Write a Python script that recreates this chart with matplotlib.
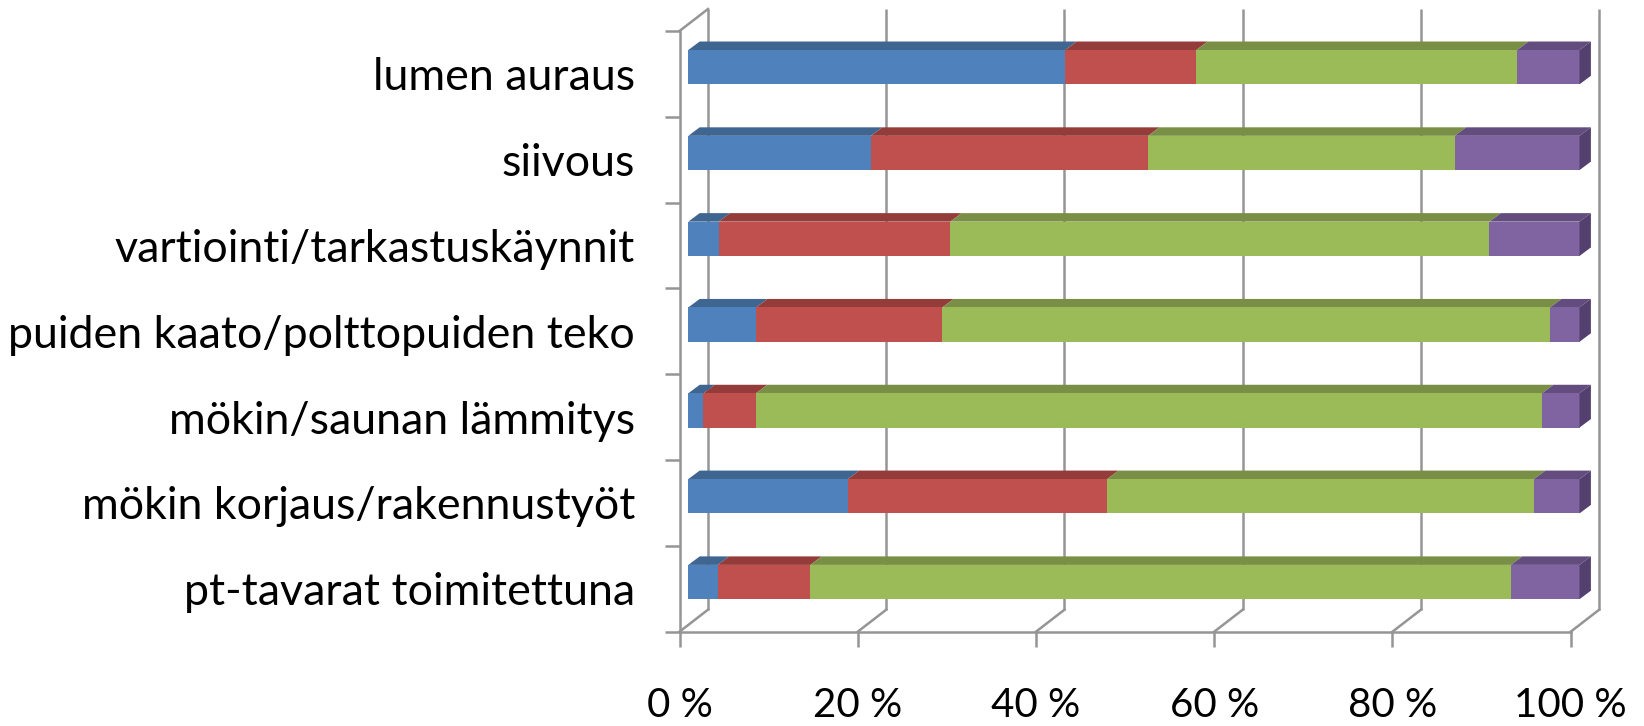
import matplotlib
matplotlib.use("Agg")
import matplotlib.pyplot as plt
import numpy as np

categories = ["lumen auraus", "siivous", "vartiointi/tarkastuskäynnit",
              "puiden kaato/polttopuiden teko", "mökin/saunan lämmitys",
              "mökin korjaus/rakennustyöt", "pt-tavarat toimitettuna"]
series_a = [42.3, 20.5, 3.4, 7.6, 1.7, 17.9, 3.3]
series_b = [14.7, 31.1, 26.0, 20.9, 5.9, 29.1, 10.4]
series_c = [36.0, 34.4, 60.5, 68.2, 88.2, 47.9, 78.6]
series_d = [7.0, 14.0, 10.1, 3.3, 4.2, 5.1, 7.7]
xtick_values = [0, 20, 40, 60, 80, 100]
xtick_labels = ["0 %", "20 %", "40 %", "60 %", "80 %", "100 %"]

front = ["#4F81BD", "#C0504D", "#9BBB59", "#8064A2"]
top = ["#3F6591", "#933C3A", "#7A8F46", "#634D7E"]
side = "#54406E"
grid = "#959595"

W, H = 1644, 726
fig = plt.figure(figsize=(W / 100, H / 100), dpi=100, facecolor="white")
L, R, T, B = 679.5, 1570.7, 31.0, 631.7
ax = fig.add_axes([L / W, 1 - B / H, (R - L) / W, (B - T) / H])
ax.set_xlim(0, 100)
ax.set_ylim(7, 0)
ax.patch.set_visible(False)

px = 100 / (R - L)          # percent per pixel
py = 7 / (B - T)            # band per pixel
wall_dx, wall_dy = 28.5 * px, 22 * py
bar_dx, bar_dy = 8.8 * px, 6.75 * py
dep_dx, dep_dy = 11.4 * px, 8.5 * py
bar_h = 34.3 * py

lw = 1.8
# back wall gridlines and floor diagonals
for v in xtick_values:
    ax.plot([v + wall_dx, v + wall_dx], [-wall_dy, 7 - wall_dy], color=grid, lw=lw,
            clip_on=False, zorder=1, solid_capstyle="butt")
    ax.plot([v, v + wall_dx], [7, 7 - wall_dy], color=grid, lw=lw, clip_on=False, zorder=1)
ax.plot([0, wall_dx], [0, -wall_dy], color=grid, lw=lw, clip_on=False, zorder=1)

# stacked 3D bars
ypos = np.arange(7) + 0.5
left = np.zeros(7)
for k, vals in enumerate([series_a, series_b, series_c, series_d]):
    vals = np.array(vals)
    ax.barh(ypos - bar_dy, vals, height=bar_h, left=left + bar_dx, color=front[k],
            edgecolor="none", zorder=4, clip_on=False)
    for y, l, v in zip(ypos - bar_dy, left + bar_dx, vals):
        ytop = y - bar_h / 2
        ax.fill([l, l + v, l + v + dep_dx, l + dep_dx],
                [ytop, ytop, ytop - dep_dy, ytop - dep_dy],
                color=top[k], lw=0, zorder=3, clip_on=False)
    left = left + vals
for y, r in zip(ypos - bar_dy, left + bar_dx):
    ytop, ybot = y - bar_h / 2, y + bar_h / 2
    ax.fill([r, r + dep_dx, r + dep_dx, r],
            [ytop, ytop - dep_dy, ybot - dep_dy, ybot],
            color=side, lw=0, zorder=5, clip_on=False)

# axes
for s in ["top", "right"]:
    ax.spines[s].set_visible(False)
for s in ["left", "bottom"]:
    ax.spines[s].set_color(grid)
    ax.spines[s].set_linewidth(lw)
    ax.spines[s].set_zorder(2)

ax.set_yticks(ypos)
ax.set_yticklabels(categories)
ax.set_yticks(np.arange(8), minor=True)
ax.tick_params(axis="y", which="major", length=0, pad=32, labelsize=32.2,
               labelfontfamily="Lato", labelcolor="black")
ax.tick_params(axis="y", which="minor", length=11, width=lw, color=grid)
ax.set_xticks(xtick_values)
ax.set_xticklabels(xtick_labels)
ax.tick_params(axis="x", which="major", length=11, width=lw, color=grid, pad=29,
               labelsize=29, labelfontfamily="Lato", labelcolor="black")

fig.savefig("out.png", dpi=100, facecolor="white")
